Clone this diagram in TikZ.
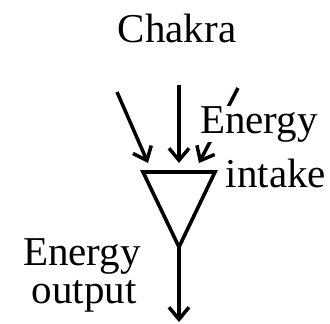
\documentclass[tikz,border=0pt]{standalone}
\usepackage{fontspec}
\setmainfont{Liberation Serif}
\usetikzlibrary{arrows.meta}
\begin{document}
\begin{tikzpicture}[x=1pt,y=-1pt,
  lbl/.style={anchor=base,inner sep=0pt,font=\fontsize{41}{41}\selectfont},
  flow/.style={line width=3.5pt,-{Straight Barb[length=12pt,width=20pt,line width=3.5pt]}},
  funnel/.style={line width=3.6pt,line join=miter}]
\useasboundingbox (0,0) rectangle (330,324);
% triangle corners
\coordinate (tl) at (143,172);
\coordinate (tr) at (215,172);
\coordinate (ap) at (179,247);
\draw[funnel] (tl) -- (tr) -- (ap) -- cycle;
% inputs
\coordinate (a1) at (117,92);
\coordinate (b1) at (148,163);
\coordinate (a2) at (179,85);
\coordinate (b2) at (179,163);
\coordinate (a3) at (238,88);
\coordinate (b3) at (199,163);
\coordinate (out) at (179,322);
\draw[flow] (a1) -- (b1);
\draw[flow] (a2) -- (b2);
\draw[flow] (a3) -- (b3);
\draw[flow] (ap) -- (out);
% labels
\node[lbl] (chakra) at (177,42) {Chakra};
\node[lbl,fill=white] (en1) at (259,133) {Energy};
\node[lbl] (intake) at (276,187) {intake};
\node[lbl] (en2) at (82,265) {Energy};
\node[lbl] (output) at (84,303) {output};
\end{tikzpicture}
\end{document}
